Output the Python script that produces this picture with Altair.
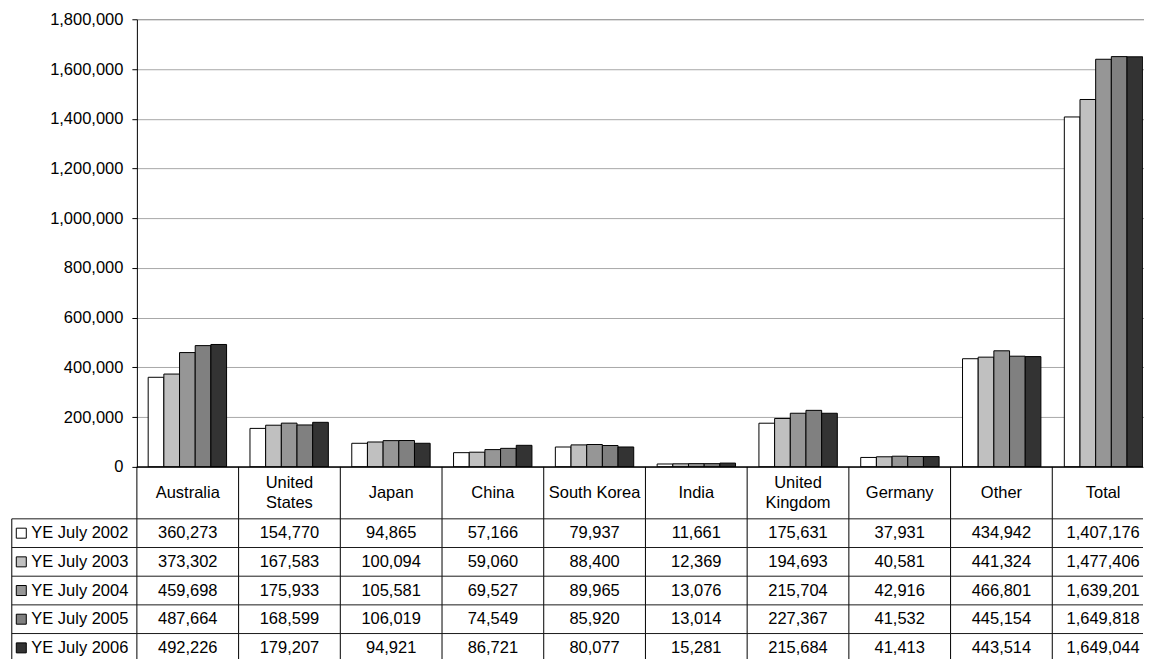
import altair as alt
import pandas as pd

categories = ["Australia", "United States", "Japan", "China", "South Korea",
              "India", "United Kingdom", "Germany", "Other", "Total"]
header_labels = ["Australia", "United\nStates", "Japan", "China", "South Korea",
                 "India", "United\nKingdom", "Germany", "Other", "Total"]
series = ["YE July 2002", "YE July 2003", "YE July 2004", "YE July 2005", "YE July 2006"]
ye2002 = [360273, 154770, 94865, 57166, 79937, 11661, 175631, 37931, 434942, 1407176]
ye2003 = [373302, 167583, 100094, 59060, 88400, 12369, 194693, 40581, 441324, 1477406]
ye2004 = [459698, 175933, 105581, 69527, 89965, 13076, 215704, 42916, 466801, 1639201]
ye2005 = [487664, 168599, 106019, 74549, 85920, 13014, 227367, 41532, 445154, 1649818]
ye2006 = [492226, 179207, 94921, 86721, 80077, 15281, 215684, 41413, 443514, 1649044]
colors = ["#ffffff", "#c0c0c0", "#969696", "#808080", "#333333"]
y_ticks = [0, 200000, 400000, 600000, 800000, 1000000, 1200000, 1400000, 1600000, 1800000]

FONT = "Liberation Sans"
FS = 16.5

values = [ye2002, ye2003, ye2004, ye2005, ye2006]
rows = []
for r, (s, vals) in enumerate(zip(series, values)):
    for c, (cat, v) in enumerate(zip(categories, vals)):
        rows.append({"category": cat, "series": s, "value": v, "col": c, "row": r})
df = pd.DataFrame(rows)

color_scale = alt.Scale(domain=series, range=colors)

W = 1007          # visible plot width (px)
XR = 1018         # full extent of the category scale (chart is cropped on the right)
NC = len(categories)
UNIT = XR / NC    # px per category column

# ---------------- bar chart ----------------
bars = alt.Chart(df).mark_bar(stroke="black", strokeWidth=1, clip=True).encode(
    x=alt.X("category:N", sort=categories,
            scale=alt.Scale(range=[0, XR], paddingInner=0.23, paddingOuter=0.111),
            axis=None),
    xOffset=alt.XOffset("series:N", sort=series,
                        scale=alt.Scale(paddingInner=0, paddingOuter=0)),
    y=alt.Y("value:Q", scale=alt.Scale(domain=[0, 1800000], nice=False),
            axis=alt.Axis(values=y_ticks, format=",.0f", title=None, domainColor="black",
                          tickColor="black", tickSize=5, labelPadding=9, grid=True,
                          gridColor={"condition": {"test": "datum.value >= 1800000",
                                                   "value": "#7f7f7f"},
                                     "value": "#a8a8a8"})),
    color=alt.Color("series:N", sort=series, scale=color_scale, legend=None),
).properties(width=W, height=448)

# ---------------- data table (y in px from table top) ----------------
HDR = 52.0
ROW = 28.7
TBL_H = 196
WU = W / UNIT                 # visible right edge in column units
LEG_W = 125.2 / UNIT          # legend column width in column units
SQ_OFF = 9.5 / UNIT
LAB_OFF = 19.5 / UNIT

xs = alt.Scale(domain=[0, NC], range=[0, XR], nice=False, zero=False)
ys = alt.Scale(domain=[0, TBL_H], nice=False, zero=False, reverse=True)

# baseline of the bar chart (category axis line)
base = alt.Chart(pd.DataFrame({"y": [0.0], "x0": [0.0], "x1": [WU]})).mark_rule(
    color="black", strokeWidth=1.5).encode(
    y=alt.Y("y:Q", scale=ys, axis=None),
    x=alt.X("x0:Q", scale=xs, axis=None), x2="x1:Q")

vl = pd.DataFrame({"x": [i for i in range(NC + 1) if i <= WU], "y0": 0.0, "y1": float(TBL_H)})
vlines = alt.Chart(vl).mark_rule(color="black", strokeWidth=1).encode(
    x=alt.X("x:Q", scale=xs, axis=None),
    y=alt.Y("y0:Q", scale=ys, axis=None), y2="y1:Q")

lv = pd.DataFrame({"x": [-LEG_W], "y0": [HDR], "y1": [float(TBL_H)]})
leftline = alt.Chart(lv).mark_rule(color="black", strokeWidth=1).encode(
    x=alt.X("x:Q", scale=xs, axis=None),
    y=alt.Y("y0:Q", scale=ys, axis=None), y2="y1:Q")

hl = pd.DataFrame({"y": [HDR + k * ROW for k in range(len(series))], "x0": -LEG_W, "x1": WU})
hlines = alt.Chart(hl).mark_rule(color="#1a1a1a", strokeWidth=1).encode(
    y=alt.Y("y:Q", scale=ys, axis=None),
    x=alt.X("x0:Q", scale=xs, axis=None), x2="x1:Q")

hrows = []
for i, lab in enumerate(header_labels):
    parts = lab.split("\n")
    n = len(parts)
    for j, p in enumerate(parts):
        hrows.append({"label": p, "x": i + 0.5, "y": HDR / 2 + (j - (n - 1) / 2) * 20})
hd = pd.DataFrame(hrows)
header = alt.Chart(hd).mark_text(font=FONT, fontSize=FS, color="black",
                                 baseline="middle", align="center").encode(
    x=alt.X("x:Q", scale=xs, axis=None),
    y=alt.Y("y:Q", scale=ys, axis=None),
    text="label:N")

tdf = df.copy()
tdf["x"] = tdf["col"] + 0.5
tdf["y"] = HDR + (tdf["row"] + 0.5) * ROW
cells = alt.Chart(tdf).mark_text(font=FONT, fontSize=FS, color="black",
                                 baseline="middle", align="center").encode(
    x=alt.X("x:Q", scale=xs, axis=None),
    y=alt.Y("y:Q", scale=ys, axis=None),
    text=alt.Text("value:Q", format=","))

ld = pd.DataFrame({"series": series,
                   "y": [HDR + (r + 0.5) * ROW for r in range(len(series))],
                   "xs": -LEG_W + SQ_OFF, "xl": -LEG_W + LAB_OFF})
squares = alt.Chart(ld).mark_square(size=100, stroke="black", strokeWidth=1,
                                    opacity=1, filled=True).encode(
    x=alt.X("xs:Q", scale=xs, axis=None),
    y=alt.Y("y:Q", scale=ys, axis=None),
    color=alt.Color("series:N", sort=series, scale=color_scale, legend=None))
leglabels = alt.Chart(ld).mark_text(font=FONT, fontSize=FS, color="black",
                                    baseline="middle", align="left").encode(
    x=alt.X("xl:Q", scale=xs, axis=None),
    y=alt.Y("y:Q", scale=ys, axis=None),
    text="series:N")

table = alt.layer(vlines, leftline, hlines, base, header, cells, squares, leglabels).properties(
    width=W, height=TBL_H)

chart = alt.vconcat(bars, table, spacing=0, bounds="flush").properties(
    padding={"left": 3, "top": 3, "right": 0, "bottom": 0}
).configure_view(stroke=None).configure_axis(
    labelFont=FONT, labelFontSize=FS, labelColor="black"
)

chart.save("out.html", embed_options={"renderer": "svg", "actions": False})
